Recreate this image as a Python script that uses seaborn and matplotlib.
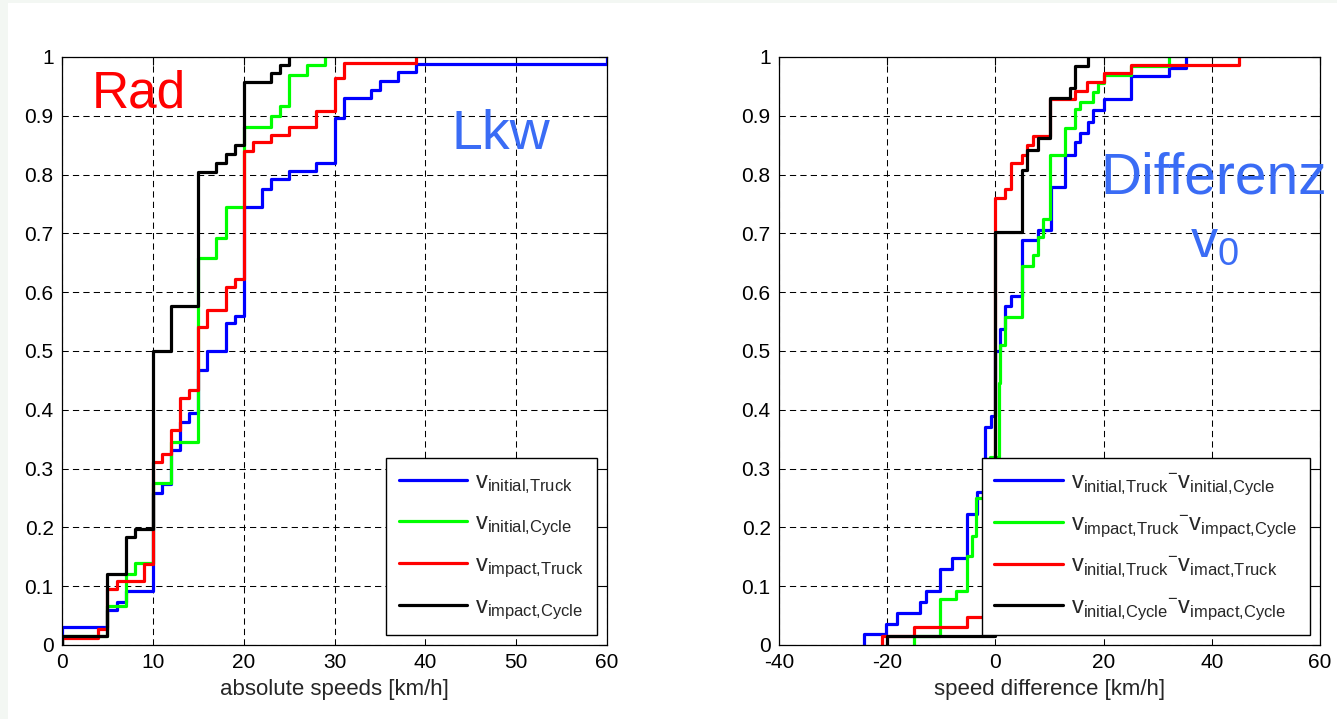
import pandas as pd
import seaborn as sns
import matplotlib.pyplot as plt
from matplotlib.patches import Rectangle

# left panel: cumulative distributions of absolute speeds [km/h]
abs_init_truck_x = [0, 0, 5, 6, 7, 10, 11, 12, 13, 14, 15, 16, 18, 19, 20, 22, 23, 25, 28, 30, 31, 34, 35, 37, 39, 60]
abs_init_truck_y = [0, 0.031, 0.059, 0.073, 0.092, 0.258, 0.273, 0.332, 0.38, 0.394, 0.468, 0.50, 0.548, 0.56,
                    0.745, 0.776, 0.792, 0.806, 0.82, 0.897, 0.931, 0.944, 0.96, 0.975, 0.988, 1.0]
abs_init_cycle_x = [0, 0, 5, 7, 8, 10, 12, 15, 17, 18, 20, 23, 24, 25, 27, 29]
abs_init_cycle_y = [0, 0.015, 0.067, 0.121, 0.14, 0.276, 0.345, 0.659, 0.692, 0.745, 0.881, 0.90, 0.916, 0.97, 0.986, 1.0]
abs_imp_truck_x = [0, 0, 4, 5, 6, 9, 10, 11, 12, 13, 14, 15, 16, 18, 19, 20, 21, 23, 25, 28, 30, 31, 39]
abs_imp_truck_y = [0, 0.0125, 0.028, 0.095, 0.108, 0.138, 0.312, 0.324, 0.366, 0.42, 0.433, 0.541, 0.57, 0.608,
                   0.622, 0.84, 0.855, 0.867, 0.881, 0.909, 0.964, 0.99, 1.0]
abs_imp_cycle_x = [0, 0, 5, 7, 8, 10, 12, 15, 17, 18, 19, 20, 23, 24, 25]
abs_imp_cycle_y = [0, 0.015, 0.121, 0.183, 0.198, 0.50, 0.577, 0.805, 0.82, 0.835, 0.851, 0.958, 0.973, 0.987, 1.0]

# right panel: cumulative distributions of speed differences [km/h]
diff_init_x = [-24.3, -24.3, -20.2, -18.1, -14, -12.9, -10.3, -8, -5.2, -3.4, -2, -0.9, 0, 0.9, 1.8, 2.8, 4.9,
               7.8, 10.2, 12.9, 14.8, 15.7, 17.1, 18, 20, 25, 32, 35.3]
diff_init_y = [0, 0.018, 0.036, 0.054, 0.0735, 0.092, 0.129, 0.148, 0.222, 0.26, 0.371, 0.389, 0.50, 0.538, 0.577,
               0.594, 0.688, 0.705, 0.779, 0.833, 0.856, 0.871, 0.889, 0.91, 0.928, 0.967, 0.982, 1.0]
diff_imp_x = [-15.1, -15.1, -10.3, -7.2, -5.2, -4.3, -3.5, -1, 0.6, 0.9, 1.8, 4.9, 6.9, 7.8, 8.8, 10, 12.9, 14.8,
              15.7, 18, 18.9, 20, 25, 32]
diff_imp_y = [0, 0.015, 0.078, 0.092, 0.152, 0.186, 0.25, 0.32, 0.446, 0.51, 0.557, 0.645, 0.663, 0.694, 0.725,
              0.834, 0.879, 0.911, 0.924, 0.94, 0.955, 0.97, 0.985, 1.0]
diff_truck_x = [-21, -21, -15.1, -5.2, -2, 0, 1.8, 2.8, 4.9, 5.9, 6.9, 10, 14.8, 17, 20, 25, 45]
diff_truck_y = [0, 0.015, 0.031, 0.047, 0.06, 0.76, 0.776, 0.82, 0.834, 0.851, 0.866, 0.928, 0.943, 0.958, 0.973,
                0.987, 1.0]
diff_cycle_x = [-20, -20, 0, 5, 5.9, 7.8, 10, 13.8, 14.8, 17.2]
diff_cycle_y = [0, 0.015, 0.703, 0.807, 0.842, 0.862, 0.931, 0.948, 0.984, 1.0]

colors = ['#0000ff', '#00ff00', '#ff0000', '#000000']
left_labels = [r'$\mathregular{v_{initial{,}Truck}}$', r'$\mathregular{v_{initial{,}Cycle}}$',
               r'$\mathregular{v_{impact{,}Truck}}$', r'$\mathregular{v_{impact{,}Cycle}}$']
right_labels = [r'$\mathregular{v_{initial{,}Truck}{}^{-}v_{initial{,}Cycle}}$',
                r'$\mathregular{v_{impact{,}Truck}{}^{-}v_{impact{,}Cycle}}$',
                r'$\mathregular{v_{initial{,}Truck}{}^{-}v_{imact{,}Truck}}$',
                r'$\mathregular{v_{initial{,}Cycle}{}^{-}v_{impact{,}Cycle}}$']

sns.set_style('white')
plt.rcParams['font.family'] = ['Liberation Sans', 'DejaVu Sans']
plt.rcParams['mathtext.fontset'] = 'custom'
plt.rcParams['mathtext.rm'] = 'Liberation Sans'
plt.rcParams['axes.unicode_minus'] = False

W, H = 1337, 719
fig = plt.figure(figsize=(W / 100, H / 100), dpi=100, facecolor='#f3f7f3')
fig.patches.append(Rectangle((8 / W, 0), 1, 1 - 3 / H, transform=fig.transFigure,
                             facecolor='white', edgecolor='none', zorder=-10))

ax1 = fig.add_axes([62 / W, 1 - 645 / H, 545 / W, 588 / H])
ax2 = fig.add_axes([779 / W, 1 - 645 / H, 541 / W, 588 / H])


def draw(ax, xs, ys, labels):
    for x, y, c, lbl in zip(xs, ys, colors, labels):
        df = pd.DataFrame({'x': x, 'y': y})
        sns.lineplot(data=df, x='x', y='y', ax=ax, color=c, label=lbl, lw=2.3,
                     drawstyle='steps-post', estimator=None, sort=False)
    ax.set_ylim(0, 1)
    ax.set_yticks([i / 10 for i in range(11)])
    ax.set_yticklabels(['0'] + ['0.%d' % i for i in range(1, 10)] + ['1'])
    ax.set_ylabel('')
    ax.grid(True, color='k', linestyle=(0, (6, 4)), linewidth=0.75)
    ax.tick_params(direction='in', length=6, width=0.8, top=True, right=True,
                   labelsize=15, pad=6, colors='k')
    for s in ax.spines.values():
        s.set_color('k')
        s.set_linewidth(0.9)
    leg = ax.legend(loc='lower right', fontsize=17, handlelength=2.9, handletextpad=0.35,
                    borderpad=0.55, labelspacing=0.68, borderaxespad=0.42,
                    fancybox=False, edgecolor='k', framealpha=1)
    leg.get_frame().set_linewidth(1.0)


draw(ax1, [abs_init_truck_x, abs_init_cycle_x, abs_imp_truck_x, abs_imp_cycle_x],
     [abs_init_truck_y, abs_init_cycle_y, abs_imp_truck_y, abs_imp_cycle_y], left_labels)
ax1.set_xlim(0, 60)
ax1.set_xticks(range(0, 61, 10))
ax1.set_xlabel('absolute speeds [km/h]', fontsize=16, labelpad=5)

draw(ax2, [diff_init_x, diff_imp_x, diff_truck_x, diff_cycle_x],
     [diff_init_y, diff_imp_y, diff_truck_y, diff_cycle_y], right_labels)
ax2.set_xlim(-40, 60)
ax2.set_xticks(range(-40, 61, 20))
ax2.set_xlabel('speed difference [km/h]', fontsize=16, labelpad=5)

blue_txt = '#3a6cf5'
fig.text(92 / W, 1 - 108 / H, 'Rad', color='#ff0000', fontsize=37, va='baseline', ha='left')
fig.text(452 / W, 1 - 149 / H, 'Lkw', color=blue_txt, fontsize=40, va='baseline', ha='left')
fig.text(1100 / W, 1 - 193 / H, 'Differenz', color=blue_txt, fontsize=41, va='baseline', ha='left')
fig.text(1190 / W, 1 - 257 / H, r'$\mathregular{v_0}$', color=blue_txt, fontsize=39, va='baseline', ha='left')

fig.savefig('out.png', dpi=100, facecolor=fig.get_facecolor())
